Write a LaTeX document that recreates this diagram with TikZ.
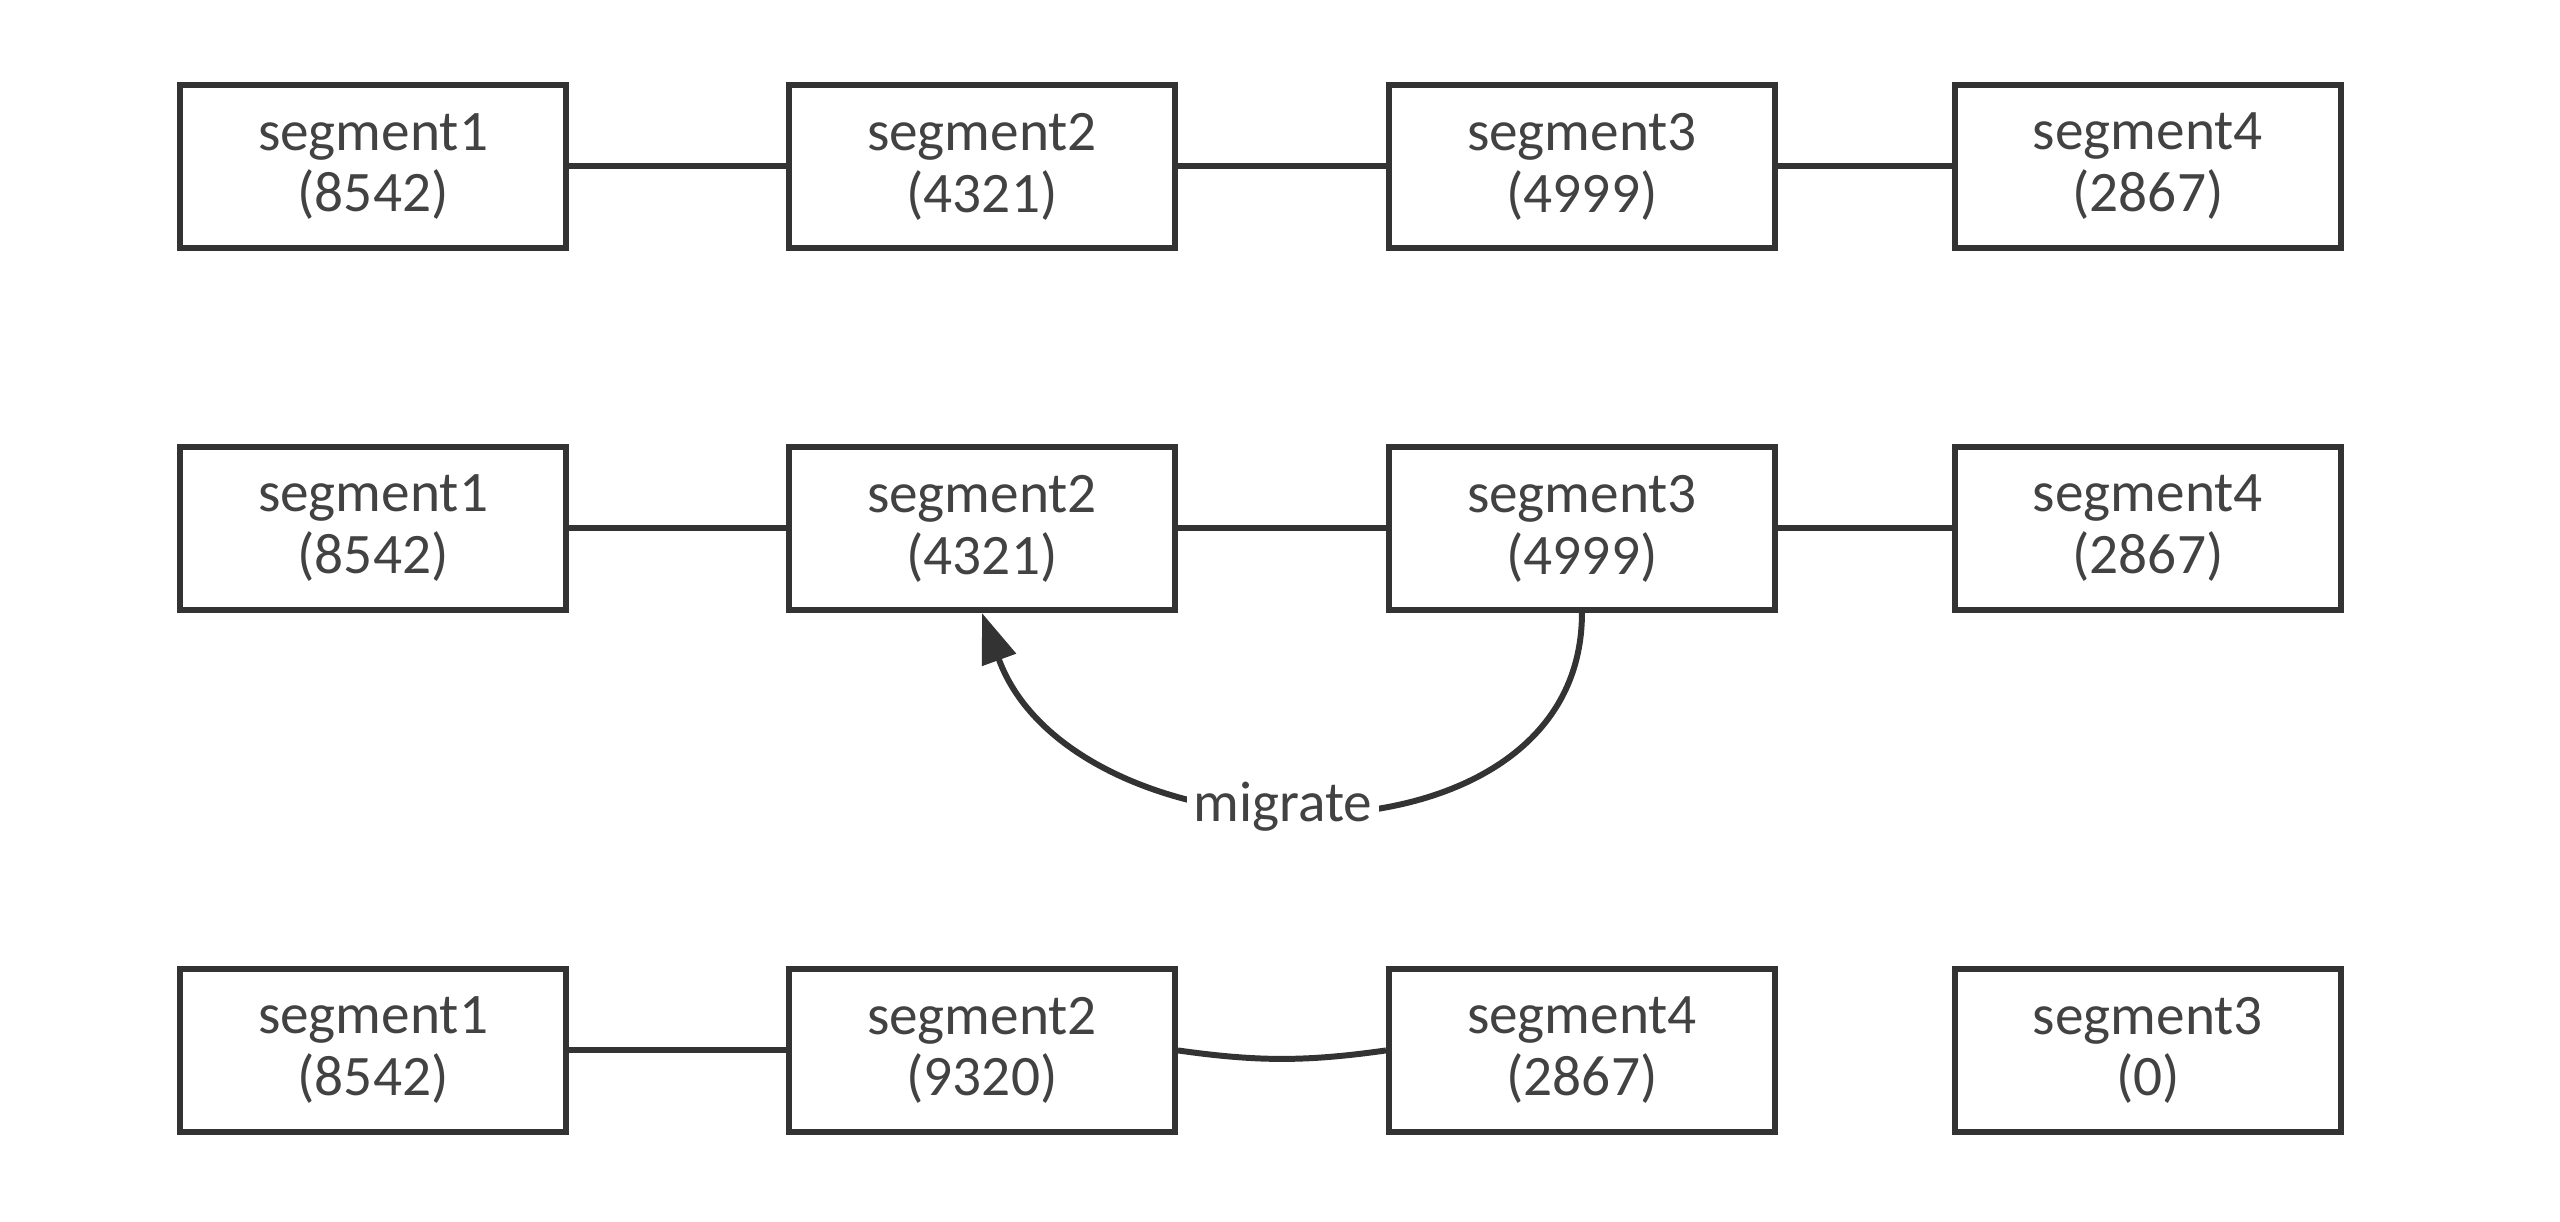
\documentclass[tikz,border=0pt]{standalone}
\usepackage{fontspec}
\usepackage{tikz}
\usetikzlibrary{arrows.meta,positioning}
\newfontfamily\segfont{Carlito}
\definecolor{segcol}{RGB}{51,51,51}
\definecolor{segtext}{RGB}{66,66,66}

\begin{document}
\begin{tikzpicture}[>={Triangle[length=0.5cm,width=0.35cm]},line width=1.7pt,draw=segcol,
  main node/.style={draw,rectangle,minimum width=3.86cm,minimum height=1.63cm,inner sep=0pt,align=center,text=segtext,font=\segfont\fontsize{16.3pt}{17.6pt}\selectfont},
  label node/.style={fill=white,inner sep=2pt,text=segtext,font=\segfont\fontsize{16.3pt}{17.6pt}\selectfont}]

  \useasboundingbox (0,0) rectangle (25.6,-12.22);

  \node[main node] (1) at (3.73,-1.665) {segment1\\(8542)};
  \node[main node] (2) [right=2.17cm of 1] {segment2\\(4321)};
  \node[main node] (3) [right=2.08cm of 2] {segment3\\(4999)};
  \node[main node] (4) [right=1.74cm of 3] {segment4\\(2867)};

  \node[main node] (5) [below=1.93cm of 1] {segment1\\(8542)};
  \node[main node] (6) [below=1.93cm of 2] {segment2\\(4321)};
  \node[main node] (7) [below=1.93cm of 3] {segment3\\(4999)};
  \node[main node] (8) [below=1.93cm of 4] {segment4\\(2867)};

  \node[main node] (9) [below=3.53cm of 5] {segment1\\(8542)};
  \node[main node] (10) [below=3.53cm of 6] {segment2\\(9320)};
  \node[main node] (11) [below=3.53cm of 7] {segment4\\(2867)};
  \node[main node] (12) [below=3.53cm of 8] {segment3\\(0)};

  \path (1) edge (2)
    (2) edge (3)
    (3) edge (4)
    (5) edge (6)
    (6) edge (7)
    (7) edge (8)
    (9) edge (10)
    (10.east) edge [bend right=8] (11.west);

  \draw[->] (7.south) to[out=-90,in=-70,looseness=1.15] node[label node,pos=0.54] {migrate} (6.south);

\end{tikzpicture}
\end{document}
